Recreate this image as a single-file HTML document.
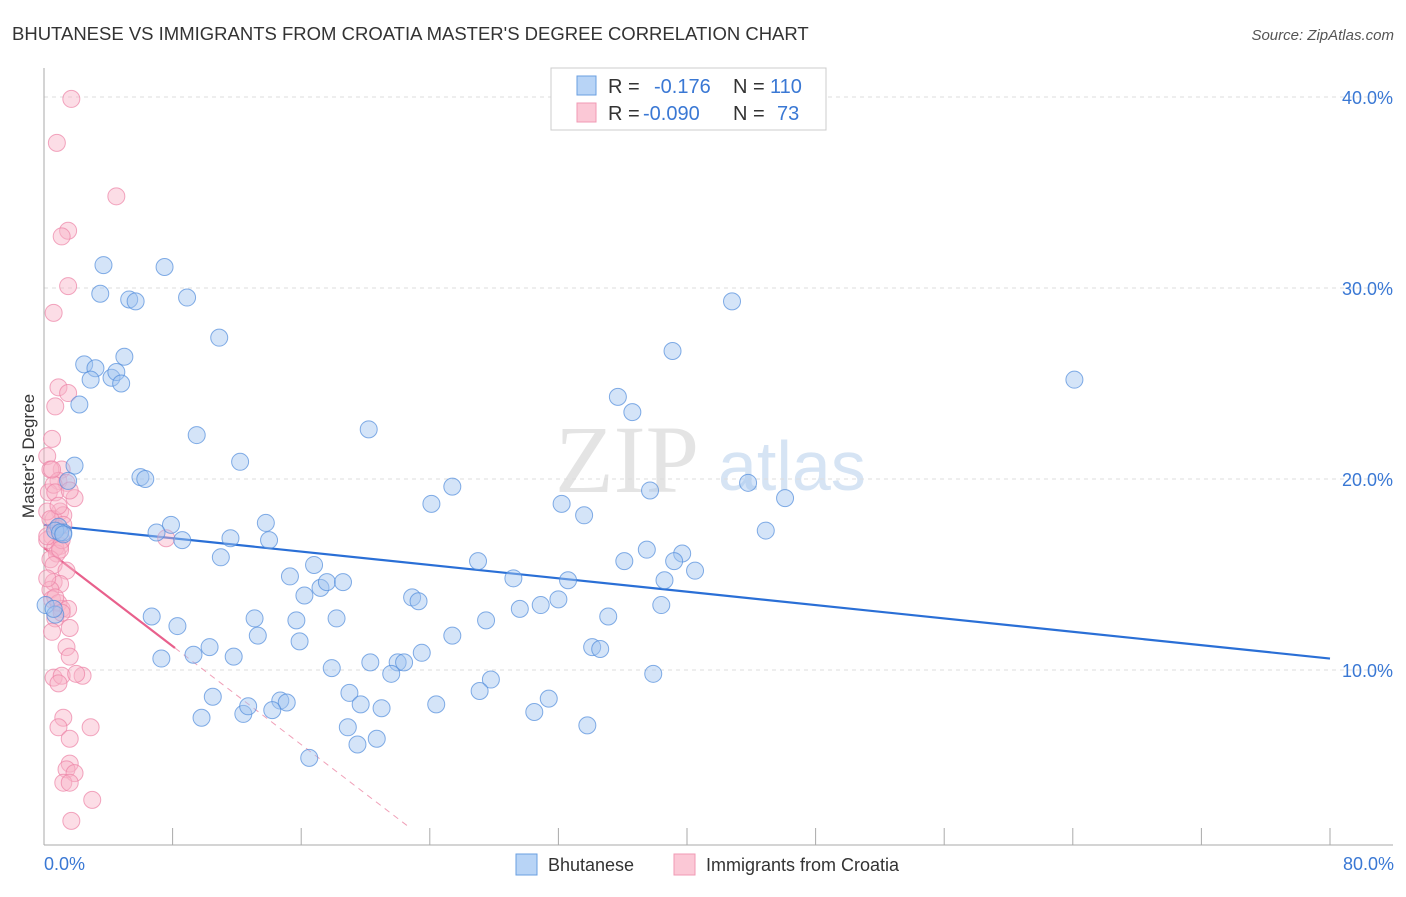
<!DOCTYPE html>
<html><head><meta charset="utf-8"><style>
body{margin:0;background:#fff;font-family:"Liberation Sans",sans-serif;}
</style></head><body>
<svg id="chart" width="1406" height="892" xmlns="http://www.w3.org/2000/svg">
<text x="12" y="40" font-size="18.5" fill="#333">BHUTANESE VS IMMIGRANTS FROM CROATIA MASTER'S DEGREE CORRELATION CHART</text>
<text x="1394" y="40" font-size="15" fill="#555" text-anchor="end" font-style="italic">Source: ZipAtlas.com</text>
<text x="555" y="492" font-size="96" fill="#e4e4e4" font-family="Liberation Serif">ZIP</text>
<text x="718" y="490" font-size="70" fill="#d6e4f4">atlas</text>
<g id="grid"></g><g id="axes"></g><g id="lines"></g><g id="pts"></g>
<text transform="translate(34,456) rotate(-90)" font-size="17" fill="#333" text-anchor="middle">Master's Degree</text>
<text x="44" y="870" font-size="18" fill="#3a78d4">0.0%</text>
<text x="1394" y="870" font-size="18" fill="#3a78d4" text-anchor="end">80.0%</text>
<g>
<rect x="551" y="68" width="275" height="62" fill="#fff" stroke="#ccc"/>
<rect x="577" y="76" width="19" height="19" fill="#b8d4f6" stroke="#6a9fe0"/>
<rect x="577" y="103" width="19" height="19" fill="#fbc8d6" stroke="#f09ab4"/>
<text x="608" y="93" font-size="20" fill="#333">R = <tspan fill="#3a78d4" x="654">-0.176</tspan><tspan x="733" fill="#333">N = </tspan><tspan fill="#3a78d4" x="770">110</tspan></text>
<text x="608" y="120" font-size="20" fill="#333">R = <tspan fill="#3a78d4" x="643">-0.090</tspan><tspan x="733" fill="#333">N = </tspan><tspan fill="#3a78d4" x="777">73</tspan></text>
</g>
<g><rect x="516" y="854" width="21" height="21" fill="#b8d4f6" stroke="#6a9fe0"/><text x="548" y="871" font-size="18" fill="#333">Bhutanese</text></g>
<g><rect x="674" y="854" width="21" height="21" fill="#fbc8d6" stroke="#f09ab4"/><text x="706" y="871" font-size="18" fill="#333">Immigrants from Croatia</text></g>
</svg>
<script>
const yTicks=[10,20,30,40];
const yTickLabels=["10.0%","20.0%","30.0%","40.0%"];
const xTicks=[8,16,24,32,40,48,56,64,72,80];
const blueX=[3.7,7.5,3.5,5.3,5.7,8.9,10.9,2.5,3.2,5.0,2.9,4.2,4.5,4.8,2.2,9.5,12.2,20.2,1.9,1.5,6.0,6.3,0.9,1.2,0.7,7.9,7.0,8.6,11.6,13.8,14.0,11.0,24.1,25.4,32.2,33.6,35.7,36.6,39.1,42.8,64.1,37.7,43.8,46.1,44.9,37.5,39.7,39.2,36.1,27.0,16.8,15.3,16.2,17.2,17.6,18.6,29.2,32.6,38.6,40.5,22.9,23.3,32.0,30.9,29.6,27.5,35.1,38.4,6.7,8.3,13.1,18.2,15.7,13.3,10.3,9.3,7.3,11.8,15.9,25.4,34.1,34.6,23.5,17.9,20.3,22.0,22.4,21.6,27.8,37.9,10.5,9.8,12.4,12.7,14.7,15.1,14.2,19.0,19.7,21.0,24.4,27.1,31.4,30.5,18.9,20.7,19.5,16.5,33.8,0.1,0.7,0.6,1.0,1.2];
const blueY=[31.2,31.1,29.7,29.4,29.3,29.5,27.4,26.0,25.8,26.4,25.2,25.3,25.6,25.0,23.9,22.3,20.9,22.6,20.7,19.9,20.1,20.0,17.5,17.2,17.3,17.6,17.2,16.8,16.9,17.7,16.8,15.9,18.7,19.6,18.7,18.1,24.3,23.5,26.7,29.3,25.2,19.4,19.8,19.0,17.3,16.3,16.1,15.7,15.7,15.7,15.5,14.9,13.9,14.3,14.6,14.6,14.8,14.7,14.7,15.2,13.8,13.6,13.7,13.4,13.2,12.6,12.8,13.4,12.8,12.3,12.7,12.7,12.6,11.8,11.2,10.8,10.6,10.7,11.5,11.8,11.2,11.1,10.9,10.1,10.4,10.4,10.4,9.8,9.5,9.8,8.6,7.5,7.7,8.1,8.4,8.3,7.9,8.8,8.2,8.0,8.2,8.9,8.5,7.8,7.0,6.4,6.1,5.4,7.1,13.4,12.9,13.2,17.2,17.1];
const pinkX=[1.7,0.8,4.5,1.5,1.1,1.5,0.6,0.9,1.5,0.7,0.5,0.2,1.1,1.9,0.4,0.9,1.4,0.3,0.6,0.7,1.0,0.6,0.2,1.2,0.8,0.5,1.0,0.2,0.7,0.8,1.1,0.4,0.6,1.4,0.6,1.0,0.4,0.5,0.9,1.1,1.5,0.7,0.5,1.6,1.4,1.6,0.6,1.1,2.4,2.0,0.9,1.2,0.9,2.9,1.6,1.6,1.4,1.9,1.2,1.6,3.0,1.7,7.6,0.2,1.0,0.2,0.7,1.1,0.4,1.2,0.9,1.6,0.5];
const pinkY=[39.9,37.6,34.8,33.0,32.7,30.1,28.7,24.8,24.5,23.8,22.1,21.2,20.5,19.0,20.5,19.9,19.8,19.3,19.7,19.3,18.3,17.9,18.3,18.1,17.4,17.0,16.5,16.8,16.4,16.1,16.8,15.8,15.5,15.2,14.6,14.5,14.2,13.7,13.5,13.2,13.2,12.7,12.0,12.2,11.2,10.7,9.6,9.7,9.7,9.8,9.3,7.5,7.0,7.0,6.4,5.1,4.8,4.6,4.1,4.1,3.2,2.1,16.9,17.0,16.3,14.8,13.8,13.0,17.9,17.6,18.6,19.4,20.5];
const blueFit=[17.6,-0.0875];
const pinkFit=[16.4,-0.644];
const pinkSolidEnd=8.15, pinkDashEnd=22.8;
const X=v=>44+v*(1286/80), Y=v=>861-v*19.1;
const NS="http://www.w3.org/2000/svg";
function mk(tag,attrs,parent){const e=document.createElementNS(NS,tag);for(const k in attrs)e.setAttribute(k,attrs[k]);document.getElementById(parent).appendChild(e);return e;}
yTicks.forEach((t,i)=>{
 const l=mk('line',{x1:44,x2:1393,y1:Y(t),y2:Y(t),stroke:'#ddd','stroke-dasharray':'4,4'},'grid');
 
 
 const tx=mk('text',{x:1393,y:Y(t)+7,'font-size':18,fill:'#3a78d4','text-anchor':'end'},'grid');
 tx.textContent=yTickLabels[i];
 
 
});
let a=mk('line',{x1:44,x2:44,y1:68,y2:845,stroke:'#aaa'},'axes');


a=mk('line',{x1:44,x2:1393,y1:845,y2:845,stroke:'#aaa'},'axes');


xTicks.forEach(t=>{const k=mk('line',{x1:X(t),x2:X(t),y1:828,y2:845,stroke:'#aaa'},'axes');
 
 });
function pts(xs,ys,fill,stroke,name){xs.forEach((x,i)=>{const c=mk('circle',{cx:X(x),cy:Y(ys[i]),r:8.5,fill:fill,stroke:stroke,'stroke-width':1},'pts');
 
 });}
pts(pinkX,pinkY,'rgba(248,180,200,0.45)','rgba(236,130,165,0.7)','croatia-point');
pts(blueX,blueY,'rgba(160,196,240,0.45)','rgba(80,140,220,0.7)','bhutanese-point');
let ln=mk('line',{x1:X(0),y1:Y(blueFit[0]),x2:X(80),y2:Y(blueFit[0]+blueFit[1]*80),stroke:'#2a6fd6','stroke-width':2.2},'lines');


ln=mk('line',{x1:X(0),y1:Y(pinkFit[0]),x2:X(pinkSolidEnd),y2:Y(pinkFit[0]+pinkFit[1]*pinkSolidEnd),stroke:'#e8608c','stroke-width':2.2},'lines');


ln=mk('line',{x1:X(pinkSolidEnd),y1:Y(pinkFit[0]+pinkFit[1]*pinkSolidEnd),x2:X(pinkDashEnd),y2:Y(pinkFit[0]+pinkFit[1]*pinkDashEnd),stroke:'#f0a0b8','stroke-width':1,'stroke-dasharray':'6,5'},'lines');


</script>
</body></html>
